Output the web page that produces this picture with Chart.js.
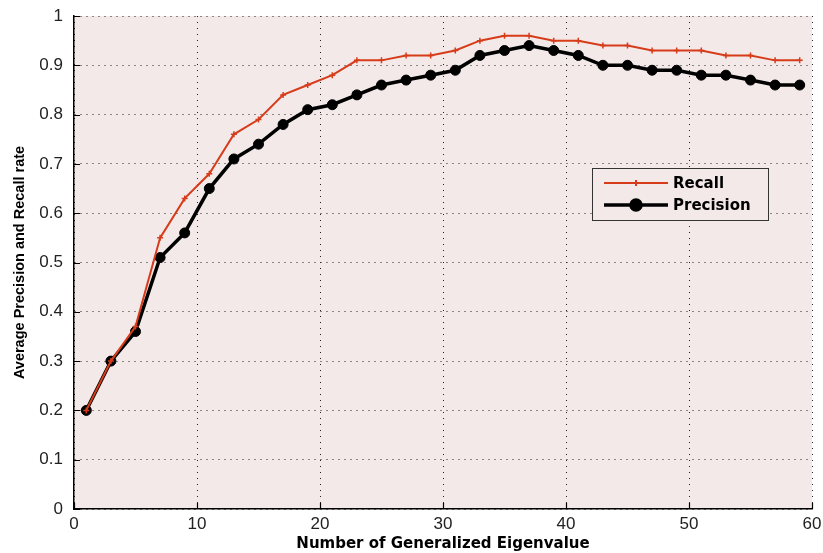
<!DOCTYPE html>
<html>
<head>
<meta charset="utf-8">
<script src="https://cdn.jsdelivr.net/npm/chart.js@4"></script>
<style>
  html, body { margin: 0; padding: 0; background: #fff; }
  #wrap { width: 823px; height: 553px; }
</style>
</head>
<body>
<div id="wrap"><canvas id="prChart" width="823" height="553"></canvas></div>
<script>
// values
const eigenCounts = [1, 3, 5, 7, 9, 11, 13, 15, 17, 19, 21, 23, 25, 27, 29,
                     31, 33, 35, 37, 39, 41, 43, 45, 47, 49, 51, 53, 55, 57, 59];
const recallRate = [0.20, 0.30, 0.37, 0.55, 0.63, 0.68, 0.76, 0.79, 0.84, 0.86,
                    0.88, 0.91, 0.91, 0.92, 0.92, 0.93, 0.95, 0.96, 0.96, 0.95,
                    0.95, 0.94, 0.94, 0.93, 0.93, 0.93, 0.92, 0.92, 0.91, 0.91];
const precisionRate = [0.20, 0.30, 0.36, 0.51, 0.56, 0.65, 0.71, 0.74, 0.78, 0.81,
                       0.82, 0.84, 0.86, 0.87, 0.88, 0.89, 0.92, 0.93, 0.94, 0.93,
                       0.92, 0.90, 0.90, 0.89, 0.89, 0.88, 0.88, 0.87, 0.86, 0.86];
const xTicks = [0, 10, 20, 30, 40, 50, 60];
const yTicks = [0, 0.1, 0.2, 0.3, 0.4, 0.5, 0.6, 0.7, 0.8, 0.9, 1];

const toPoints = (ys) => eigenCounts.map((x, i) => ({ x: x, y: ys[i] }));

// pink plot background
const plotBg = {
    id: 'plotBg',
    beforeDraw(chart) {
        const a = chart.chartArea, ctx = chart.ctx;
        ctx.save();
        ctx.fillStyle = '#f4e9e9';
        ctx.fillRect(a.left, a.top, a.right - a.left, a.bottom - a.top);
        ctx.restore();
    }
};

// small tick marks pointing into the plot
const innerTicks = {
    id: 'innerTicks',
    beforeDatasetsDraw(chart) {
        const ctx = chart.ctx, a = chart.chartArea;
        const xs = chart.scales.x, ys = chart.scales.y;
        ctx.save();
        ctx.strokeStyle = '#000';
        ctx.lineWidth = 1.2;
        ctx.beginPath();
        xTicks.forEach(v => {
            const px = Math.round(xs.getPixelForValue(v)) + 0.5;
            ctx.moveTo(px, a.bottom);
            ctx.lineTo(px, a.bottom - 6);
        });
        yTicks.forEach(v => {
            const py = Math.round(ys.getPixelForValue(v)) + 0.5;
            ctx.moveTo(a.left, py);
            ctx.lineTo(a.left + 6, py);
        });
        ctx.stroke();
        ctx.restore();
    }
};

// boxed legend inside the plot, like the matlab one
const boxLegend = {
    id: 'boxLegend',
    afterDatasetsDraw(chart) {
        const ctx = chart.ctx, a = chart.chartArea;
        const x0 = a.left + 518, y0 = a.top + 152, w = 176, h = 52;
        ctx.save();
        ctx.fillStyle = '#f4e9e9';
        ctx.fillRect(x0, y0, w, h);
        ctx.strokeStyle = '#333';
        ctx.lineWidth = 1;
        ctx.strokeRect(x0 + 0.5, y0 + 0.5, w, h);
        chart.data.datasets.forEach((ds, i) => {
            const y = y0 + 15 + i * 22;
            ctx.strokeStyle = ds.borderColor;
            ctx.lineWidth = ds.borderWidth;
            ctx.beginPath();
            ctx.moveTo(x0 + 12, y);
            ctx.lineTo(x0 + 76, y);
            ctx.stroke();
            Chart.helpers.drawPoint(ctx, {
                pointStyle: ds.pointStyle,
                radius: ds.pointRadius,
                borderWidth: ds.pointBorderWidth || 1
            }, x0 + 44, y);
            ctx.fillStyle = '#000';
            ctx.font = 'bold 15px "DejaVu Sans"';
            ctx.textBaseline = 'middle';
            ctx.fillText(ds.label, x0 + 81, y + 1);
        });
        ctx.restore();
    }
};

new Chart(document.getElementById('prChart'), {
    type: 'line',
    data: {
        datasets: [{
            label: 'Recall',
            data: toPoints(recallRate),
            borderColor: '#d63c1a',
            backgroundColor: '#d63c1a',
            borderWidth: 2,
            pointStyle: 'cross',
            pointRadius: 3,
            pointBorderWidth: 1.5,
            tension: 0
        }, {
            label: 'Precision',
            data: toPoints(precisionRate),
            borderColor: '#000',
            backgroundColor: '#000',
            borderWidth: 3.5,
            pointStyle: 'circle',
            pointRadius: 5,
            pointBorderWidth: 1,
            tension: 0
        }]
    },
    options: {
        responsive: false,
        animation: false,
        devicePixelRatio: 1,
        layout: { padding: { top: 16, right: 11, left: 0, bottom: 0 } },
        plugins: {
            legend: { display: false },
            tooltip: { enabled: false }
        },
        scales: {
            x: {
                type: 'linear',
                min: 0,
                max: 60,
                afterBuildTicks: (s) => { s.ticks = xTicks.map(v => ({ value: v })); },
                afterFit: (s) => { s.height = 44; s.paddingLeft = 0; s.paddingRight = 0; },
                grid: { color: '#222', lineWidth: 1, drawTicks: false },
                border: { display: true, color: '#000', width: 1.5, dash: [1, 5] },
                ticks: {
                    padding: 5,
                    color: '#222',
                    font: { family: '"Liberation Sans"', size: 17 }
                },
                title: {
                    display: true,
                    text: 'Number of Generalized Eigenvalue',
                    color: '#000',
                    padding: { top: 0, bottom: 0 },
                    font: { family: '"DejaVu Sans"', size: 15, weight: 'bold' }
                }
            },
            y: {
                min: 0,
                max: 1,
                afterBuildTicks: (s) => { s.ticks = yTicks.map(v => ({ value: v })); },
                afterFit: (s) => { s.width = 74; s.paddingTop = 0; s.paddingBottom = 0; },
                grid: { color: '#222', lineWidth: 1, drawTicks: false },
                border: { display: true, color: '#000', width: 1.5, dash: [1, 5] },
                ticks: {
                    padding: 11,
                    color: '#222',
                    font: { family: '"Liberation Sans"', size: 17 },
                    callback: (v) => String(+v.toFixed(1))
                },
                title: {
                    display: true,
                    text: 'Average Precision and Recall rate',
                    color: '#000',
                    padding: { top: 11, bottom: 0 },
                    font: { family: '"Liberation Sans"', size: 14.5, weight: 'bold' }
                }
            }
        }
    },
    plugins: [plotBg, innerTicks, boxLegend]
});
</script>
</body>
</html>
